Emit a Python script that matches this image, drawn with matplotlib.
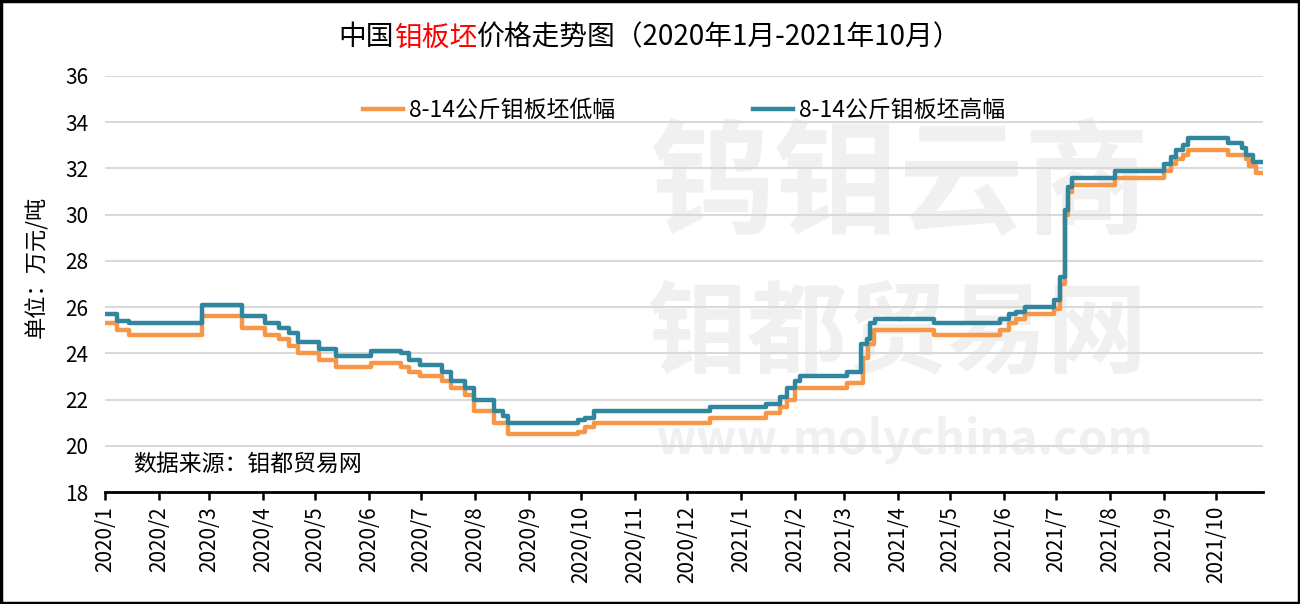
import matplotlib
matplotlib.use("Agg")
import matplotlib.pyplot as plt
import pandas as pd
from matplotlib.patches import Rectangle

plt.rcParams['font.family'] = ['Noto Sans CJK SC', 'DejaVu Sans']

# 8-14公斤钼板坯低幅 (step change dates, price in 万元/吨)
low_dates = ['2020-01-01', '2020-01-08', '2020-01-15', '2020-02-26', '2020-03-20',
             '2020-04-02', '2020-04-10', '2020-04-16', '2020-04-21', '2020-05-03',
             '2020-05-13', '2020-06-02', '2020-06-19', '2020-06-24', '2020-06-30',
             '2020-07-13', '2020-07-18', '2020-07-26', '2020-07-31', '2020-08-12',
             '2020-08-20', '2020-09-29', '2020-10-03', '2020-10-08', '2020-12-14',
             '2021-01-15', '2021-01-23', '2021-01-27', '2021-02-01', '2021-03-03',
             '2021-03-12', '2021-03-15', '2021-03-18', '2021-04-22', '2021-05-30',
             '2021-06-04', '2021-06-08', '2021-06-13', '2021-06-30', '2021-07-03',
             '2021-07-06', '2021-07-08', '2021-07-10', '2021-08-04', '2021-09-01',
             '2021-09-05', '2021-09-08', '2021-09-12', '2021-09-15', '2021-10-08',
             '2021-10-18', '2021-10-20', '2021-10-24', '2021-10-28']
low_values = [25.3, 25.0, 24.8, 25.6, 25.1,
              24.8, 24.6, 24.3, 24.0, 23.7,
              23.4, 23.6, 23.4, 23.2, 23.0,
              22.8, 22.5, 22.2, 21.5, 21.0,
              20.5, 20.6, 20.8, 21.0, 21.2,
              21.4, 21.7, 22.0, 22.5, 22.7,
              23.8, 24.4, 25.0, 24.8, 25.0,
              25.3, 25.5, 25.7, 25.9, 27.0,
              30.0, 31.0, 31.3, 31.6, 31.9,
              32.2, 32.4, 32.6, 32.8, 32.6,
              32.4, 32.1, 31.8, 31.8]

# 8-14公斤钼板坯高幅
high_dates = ['2020-01-01', '2020-01-08', '2020-01-15', '2020-02-26', '2020-03-20',
              '2020-04-02', '2020-04-10', '2020-04-16', '2020-04-21', '2020-05-03',
              '2020-05-13', '2020-06-02', '2020-06-19', '2020-06-24', '2020-06-30',
              '2020-07-13', '2020-07-18', '2020-07-26', '2020-07-31', '2020-08-12',
              '2020-08-17', '2020-08-20', '2020-09-29', '2020-10-03', '2020-10-08',
              '2020-12-14', '2021-01-15', '2021-01-23', '2021-01-27', '2021-02-01',
              '2021-02-04', '2021-03-03', '2021-03-11', '2021-03-14', '2021-03-16',
              '2021-03-19', '2021-04-22', '2021-05-30', '2021-06-04', '2021-06-08',
              '2021-06-13', '2021-06-30', '2021-07-03', '2021-07-06', '2021-07-08',
              '2021-07-10', '2021-08-04', '2021-09-01', '2021-09-05', '2021-09-08',
              '2021-09-12', '2021-09-15', '2021-10-08', '2021-10-16', '2021-10-18',
              '2021-10-22', '2021-10-28']
high_values = [25.7, 25.4, 25.3, 26.1, 25.6,
               25.3, 25.1, 24.9, 24.5, 24.2,
               23.9, 24.1, 24.0, 23.7, 23.5,
               23.2, 22.8, 22.5, 22.0, 21.5,
               21.3, 21.0, 21.1, 21.2, 21.5,
               21.7, 21.8, 22.1, 22.5, 22.8,
               23.0, 23.2, 24.4, 24.6, 25.3,
               25.5, 25.3, 25.5, 25.7, 25.8,
               26.0, 26.3, 27.3, 30.2, 31.2,
               31.6, 31.9, 32.2, 32.5, 32.8,
               33.0, 33.3, 33.1, 32.9, 32.6,
               32.3, 32.3]

month_ticks = pd.date_range('2020-01-01', '2021-10-01', freq='MS')
month_labels = [f'{d.year}/{d.month}' for d in month_ticks]
y_ticks = list(range(18, 37, 2))

fig = plt.figure(figsize=(13, 6.04), dpi=100)
ax = fig.add_axes([0.0808, 0.1854, 0.8907, 0.6888])

# faint watermark, kept behind the grid and lines
wm = '#f0f0f0'
for txt, xy, fs in [('钨钼云商', (0.692, 0.69), 90),
                    ('钼都贸易网', (0.69, 0.445), 72),
                    ('www.molychina.com', (0.696, 0.27), 34)]:
    ax.text(xy[0], xy[1], txt, transform=fig.transFigure, fontsize=fs,
            fontweight='bold', color=wm, ha='center', va='center', zorder=0.1)

ax.step(pd.to_datetime(low_dates), low_values, where='post', color='#F79646',
        lw=3.2, label='8-14公斤钼板坯低幅', zorder=3)
ax.step(pd.to_datetime(high_dates), high_values, where='post', color='#31859C',
        lw=3.2, label='8-14公斤钼板坯高幅', zorder=4)

ax.set_xlim(pd.Timestamp('2020-01-01'), pd.Timestamp('2021-10-28'))
ax.set_ylim(18, 36)
ax.set_yticks(y_ticks)
ax.set_xticks(month_ticks)
ax.set_xticklabels(month_labels, rotation=90, fontsize=15)
ax.tick_params(axis='y', length=0, labelsize=15, pad=12)
ax.tick_params(axis='x', length=6, width=1.8, direction='out', pad=4)
ax.grid(axis='y', color='#d9d9d9', lw=1.5, zorder=0.5)
ax.set_axisbelow(True)
for s in ['left', 'right', 'top']:
    ax.spines[s].set_visible(False)
ax.spines['bottom'].set_linewidth(2)
ax.spines['bottom'].set_zorder(5)

# y-axis unit label, placed where the reference has it
fig.text(37 / 1300, 1 - 267 / 604, '单位：万元/吨', fontsize=16, rotation=90,
         ha='center', va='center')

ax.text(0.024, 0.067, '数据来源：钼都贸易网', transform=ax.transAxes, fontsize=16.5,
        va='center', ha='left')

ax.legend(loc='upper center', bbox_to_anchor=(0.5, 0.995), ncol=2, frameon=False,
          fontsize=16.5, handlelength=1.75, handletextpad=0.25, columnspacing=6.0)

# title with red middle part
parts = [('中国', 'black'), ('钼板坯', 'red'), ('价格走势图（2020年1月-2021年10月）', 'black')]
renderer = fig.canvas.get_renderer()
texts = [fig.text(0, 0.938, p, color=c, fontsize=20, ha='left', va='center') for p, c in parts]
widths = [t.get_window_extent(renderer).width / fig.bbox.width for t in texts]
x = 0.5 - sum(widths) / 2
for t, w in zip(texts, widths):
    t.set_x(x)
    x += w

fig.patches.append(Rectangle((0.001, 0.001), 0.998, 0.997, transform=fig.transFigure,
                             fill=False, edgecolor='black', lw=2.5))

fig.savefig('out.png', dpi=100)
